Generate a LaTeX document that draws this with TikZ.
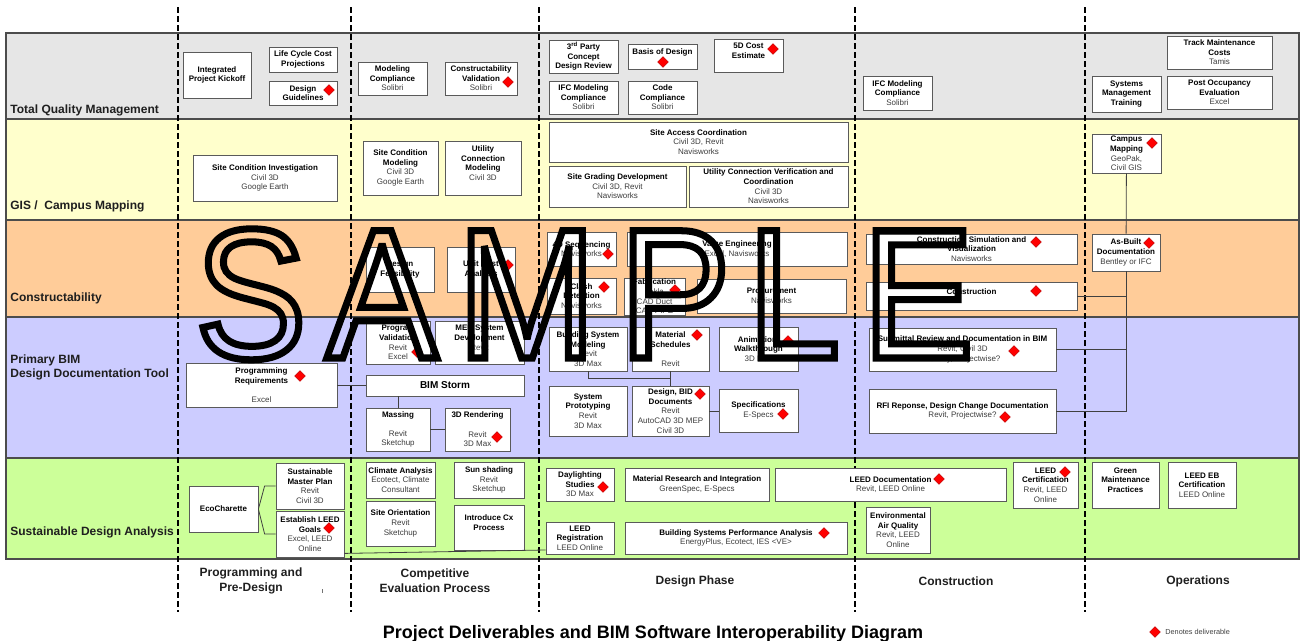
\documentclass[tikz,border=0pt]{standalone}
\usepackage{fontspec}
\setmainfont{Liberation Sans}
\newfontfamily\wmfont[FakeStretch=0.9]{Liberation Sans}
\usetikzlibrary{shapes.geometric}

\definecolor{tqmgray}{HTML}{E6E6E6}
\definecolor{gisyellow}{HTML}{FFFFCC}
\definecolor{conpeach}{HTML}{FFCC99}
\definecolor{bimlilac}{HTML}{CCCCFF}
\definecolor{susgreen}{HTML}{CCFF99}
\definecolor{boxline}{HTML}{5A5A5A}
\definecolor{toolgray}{HTML}{3C3C3C}

\newcommand{\swtool}[1]{{\mdseries\color{toolgray}#1}}
\newcommand{\emptyrow}{\mbox{}}
\newcommand{\outlined}[1]{\special{pdf:literal direct 1 Tr 7 w 3 M 0 0 0 RG}#1\special{pdf:literal direct 0 Tr}}

\begin{document}
\begin{tikzpicture}[x=1pt, y=-1pt, line width=0.8pt,
  lane/.style={draw=black!70, line width=1.2pt},
  lanelabel/.style={font=\fontsize{12}{14}\selectfont\bfseries, text=black!88, inner sep=0pt, align=left},
  phase/.style={line width=2.6pt, dash pattern=on 6pt off 3pt},
  phaselabel/.style={font=\fontsize{12}{15}\selectfont\bfseries, text=black!88, inner sep=0pt, align=center},
  task/.style={draw=boxline, fill=white, line width=0.8pt, inner sep=0pt, align=center, font=\fontsize{8}{9.6}\selectfont\bfseries},
  wh/.style 2 args={minimum width=#1, minimum height=#2},
  wire/.style={draw=black!75, line width=0.8pt},
  deliv/.style={diamond, fill=red, draw=red!70!black, line width=0.3pt, inner sep=0pt, minimum size=11},
  wmletter/.style={anchor=base west, inner sep=0pt, font=\wmfont\fontsize{185}{185}\selectfont}]
  \useasboundingbox (0,0) rectangle (1304,640);

  \filldraw[lane, fill=tqmgray] (6,33) rectangle (1299,119);
  \filldraw[lane, fill=gisyellow] (6,119) rectangle (1299,220);
  \filldraw[lane, fill=conpeach] (6,220) rectangle (1299,317);
  \filldraw[lane, fill=bimlilac] (6,317) rectangle (1299,458);
  \filldraw[lane, fill=susgreen] (6,458) rectangle (1299,559);

  \node[lanelabel, anchor=base west] (lbltqm) at (10,113) {Total Quality Management};
  \node[lanelabel, anchor=base west] (lblgis) at (10,209) {GIS / \ Campus Mapping};
  \node[lanelabel, anchor=base west] (lblcon) at (10,301) {Constructability};
  \node[lanelabel, anchor=west] (lblbim) at (10,367) {Primary BIM\\Design Documentation Tool};
  \node[lanelabel, anchor=west] (lblsus) at (10,532) {Sustainable Design Analysis};

  \foreach \px in {178,351,539,855,1085}
    \draw[phase] (\px,7) -- (\px,612);

  \node[phaselabel] (phpre) at (251,581) {Programming and\\Pre-Design};
  \node[phaselabel] (phcomp) at (435,581) {Competitive\\Evaluation Process};
  \node[phaselabel] (phdes) at (695,581.5) {Design Phase};
  \node[phaselabel] (phcon) at (956,581.5) {Construction};
  \node[phaselabel] (phops) at (1198,581.5) {Operations};
  \draw[black!55, line width=0.5pt] (322.5,589) -- (322.5,593);

  \node[task, wh={68}{46}] (kickoff) at (217,75) {Integrated\\Project Kickoff};
  \node[task, wh={68}{25}] (lifecycle) at (303,59.5) {Life Cycle Cost\\Projections};
  \node[task, wh={68}{24}] (guidelines) at (303,93) {Design\\Guidelines};
  \node[task, wh={69}{33}] (modcomp) at (392.5,78.5) {Modeling\\Compliance\\\swtool{Solibri}};
  \node[task, wh={72}{33}] (constval) at (481,78.5) {Constructability\\Validation\\\swtool{Solibri}};
  \node[task, wh={69}{33}] (concept) at (583.5,56.5) {3\textsuperscript{rd} Party\\Concept\\Design Review};
  \node[task, wh={69}{25}] (basis) at (662.5,56.5) {Basis of Design\\\emptyrow};
  \node[task, wh={69}{33}] (cost) at (748.5,55.5) {5D Cost\\Estimate\\\emptyrow};
  \node[task, wh={69}{33}] (ifcdesign) at (583.5,97.5) {IFC Modeling\\Compliance\\\swtool{Solibri}};
  \node[task, wh={69}{33}] (codecomp) at (662.5,97.5) {Code\\Compliance\\\swtool{Solibri}};
  \node[task, wh={69}{34}] (ifcbuild) at (897.5,93) {IFC Modeling\\Compliance\\\swtool{Solibri}};
  \node[task, wh={69}{36}] (sysmgmt) at (1126.5,94) {Systems\\Management\\Training};
  \node[task, wh={105}{33}] (trackcost) at (1219.5,52.5) {Track Maintenance\\Costs\\\swtool{Tamis}};
  \node[task, wh={105}{33}] (postocc) at (1219.5,92.5) {Post Occupancy\\Evaluation\\\swtool{Excel}};

  \node[task, wh={144}{46}] (sitecond) at (265,178) {Site Condition Investigation\\\swtool{Civil 3D}\\\swtool{Google Earth}};
  \node[task, wh={75}{54}] (sitemodel) at (400.5,168) {Site Condition\\Modeling\\\swtool{Civil 3D}\\\swtool{Google Earth}};
  \node[task, wh={76}{54}] (utilmodel) at (483,168) {Utility\\Connection\\Modeling\\\swtool{Civil 3D}\\\emptyrow};
  \node[task, wh={299}{40}] (siteaccess) at (698.5,142) {Site Access Coordination\\\swtool{Civil 3D, Revit}\\\swtool{Navisworks}};
  \node[task, wh={137}{41}] (grading) at (617.5,186.5) {Site Grading Development\\\swtool{Civil 3D, Revit}\\\swtool{Navisworks}};
  \node[task, wh={159}{41}] (utilcheck) at (768.5,186.5) {Utility Connection Verification and\\Coordination\\\swtool{Civil 3D}\\\swtool{Navisworks}};
  \node[task, wh={69}{39}] (campus) at (1126.5,153.5) {Campus\\Mapping\\\swtool{GeoPak,}\\\swtool{Civil GIS}};

  \node[task, wh={68}{45}] (feasibility) at (400,269.5) {Design\\Feasibility};
  \node[task, wh={68}{45}] (unitcost) at (481,269.5) {Unit Cost\\Analysis};
  \node[task, wh={69}{34}] (sequencing) at (581.5,249) {4D Sequencing\\\swtool{Navisworks}};
  \node[task, wh={220}{34}] (valueeng) at (737,249) {Value Engineering\\\swtool{Excel, Navisworks}};
  \node[task, wh={69}{36}] (clash) at (581.5,296) {Clash\\Detection\\\swtool{Navisworks}};
  \node[task, wh={61}{37}] (fabrication) at (654.5,296.5) {Fabrication\\\swtool{Tekla}\\\swtool{CAD Duct}\\\swtool{CAD PIPE}};
  \node[task, wh={149}{34}] (procurement) at (771.5,296) {Procurement\\\swtool{Navisworks}};
  \node[task, wh={211}{30}] (simulation) at (971.5,249) {Construction Simulation and\\Visualization\\\swtool{Navisworks}};
  \node[task, wh={211}{28}] (construction) at (971.5,296) {Construction\\\emptyrow};
  \node[task, wh={68}{37}] (asbuilt) at (1126,252.5) {As-Built\\Documentation\\\swtool{Bentley or IFC}};

  \node[task, wh={151}{44}] (progreq) at (261.5,385) {Programming\\Requirements\\\emptyrow\\\swtool{Excel}};
  \node[task, wh={64}{43}] (progval) at (398,342.5) {Program\\Validation\\\swtool{Revit}\\\swtool{Excel}};
  \node[task, wh={89}{43}] (mepdev) at (479.5,342.5) {MEP System\\Development\\\swtool{Revit}\\\emptyrow};
  \node[task, wh={158}{21}, font=\fontsize{10}{12}\selectfont\bfseries] (bimstorm) at (445,385.5) {BIM Storm};
  \node[task, wh={64}{43}] (massing) at (398,429.5) {Massing\\\emptyrow\\\swtool{Revit}\\\swtool{Sketchup}};
  \node[task, wh={65}{43}] (rendering) at (477.5,429.5) {3D Rendering\\\emptyrow\\\swtool{Revit}\\\swtool{3D Max}};
  \node[task, wh={78}{44}] (sysmodel) at (588,349) {Building System\\Modeling\\\swtool{Revit}\\\swtool{3D Max}};
  \node[task, wh={77}{44}] (schedules) at (670.5,349) {Material\\Schedules\\\emptyrow\\\swtool{Revit}};
  \node[task, wh={79}{44}] (animation) at (758.5,349) {Animation/\\Walkthrough\\\swtool{3D Max}};
  \node[task, wh={78}{50}] (prototype) at (588,411) {System\\Prototyping\\\swtool{Revit}\\\swtool{3D Max}};
  \node[task, wh={77}{50}] (biddocs) at (670.5,411) {Design, BID\\Documents\\\swtool{Revit}\\\swtool{AutoCAD 3D MEP}\\\swtool{Civil 3D}};
  \node[task, wh={79}{43}] (specs) at (758.5,410.5) {Specifications\\\swtool{E-Specs}};
  \node[task, wh={187}{43}] (submittal) at (962.5,349.5) {Submittal Review and Documentation in BIM\\\swtool{Revit, Civil 3D}\\\swtool{Bentley, Projectwise?}};
  \node[task, wh={187}{44}] (rfi) at (962.5,411) {RFI Reponse, Design Change Documentation\\\swtool{Revit, Projectwise?}};

  \node[task, wh={69}{46}] (charette) at (223.5,509) {EcoCharette};
  \node[task, wh={68}{46}] (masterplan) at (310,486) {Sustainable\\Master Plan\\\swtool{Revit}\\\swtool{Civil 3D}};
  \node[task, wh={68}{46}] (leedgoals) at (310,534) {Establish LEED\\Goals\\\swtool{Excel, LEED}\\\swtool{Online}};
  \node[task, wh={69}{36}] (climate) at (400.5,480) {Climate Analysis\\\swtool{Ecotect, Climate}\\\swtool{Consultant}};
  \node[task, wh={70}{36}] (sunshade) at (489,480) {Sun shading\\\swtool{Revit}\\\swtool{Sketchup}};
  \node[task, wh={69}{45}] (orientation) at (400.5,523.5) {Site Orientation\\\swtool{Revit}\\\swtool{Sketchup}};
  \node[task, wh={70}{45}] (commission) at (489,527.5) {Introduce Cx\\Process\\\emptyrow};
  \node[task, wh={68}{33}] (daylight) at (580,484.5) {Daylighting\\Studies\\\swtool{3D Max}};
  \node[task, wh={144}{33}] (materials) at (697,484.5) {Material Research and Integration\\\swtool{GreenSpec, E-Specs}};
  \node[task, wh={231}{33}] (leeddoc) at (890.5,484.5) {LEED Documentation\\\swtool{Revit, LEED Online}};
  \node[task, wh={65}{46}] (leedcert) at (1045.5,485) {LEED\\Certification\\\swtool{Revit, LEED}\\\swtool{Online}};
  \node[task, wh={67}{46}] (greenmaint) at (1125.5,485) {Green\\Maintenance\\Practices\\\emptyrow};
  \node[task, wh={68}{46}] (leedeb) at (1202,485) {LEED EB\\Certification\\\swtool{LEED Online}};
  \node[task, wh={68}{32}] (leedreg) at (580,538) {LEED\\Registration\\\swtool{LEED Online}};
  \node[task, wh={222}{32}] (perfanalysis) at (736,538) {Building Systems Performance Analysis\\\swtool{EnergyPlus, Ecotect, IES \textless VE\textgreater}};
  \node[task, wh={64}{46}] (airquality) at (898,530) {Environmental\\Air Quality\\\swtool{Revit, LEED}\\\swtool{Online}};

  \draw[wire] (progreq.east) -- (progreq.east -| bimstorm.west);
  \draw[wire] (massing.north) -- (massing.north |- bimstorm.south);
  \draw[wire] (massing) -- (rendering);
  \draw[wire] (sysmodel.south) -- ++(0,7) -| (schedules.south);
  \draw[wire] (schedules) -- (biddocs);
  \draw[wire] (biddocs.east) -- (biddocs.east -| specs.west);
  \draw[wire] (campus) -- (asbuilt);
  \draw[wire] (asbuilt.south) -- (asbuilt.south |- rfi.east) -- (rfi.east);
  \draw[wire] (construction.east) -- (construction.east -| asbuilt.south);
  \draw[wire] (submittal.east) -- (submittal.east -| asbuilt.south);
  \draw[wire] (masterplan.west) -- +(-11,0) -- (charette.east);
  \draw[wire] (leedgoals.west) -- +(-11,0) -- (charette.east);
  \draw[wire] ([yshift=4pt]leedgoals.south east) -- ([yshift=-12pt]leedreg.west);

  \foreach \dx/\dy [count=\k] in {329/90, 508/82, 663/62, 773/49, 1152/143, 508/265, 608/254,
      604/287, 675/290, 1036/242, 1036/291, 1149/243, 300/376, 417/352, 497/437, 697/335,
      788/341, 700/394, 783/414, 1014/351, 1005/417, 329/528, 603/487, 939/479, 1065/472, 824/533}
    \node[deliv] (deliv\k) at (\dx,\dy) {};

  \node[font=\fontsize{18}{20}\selectfont\bfseries, anchor=base, inner sep=0pt] (title) at (653,638) {Project Deliverables and BIM Software Interoperability Diagram};
  \node[deliv] (keymark) at (1155,632) {};
  \node[anchor=west, inner sep=0pt, font=\fontsize{7.3}{8}\selectfont, text=black!75] (keytext) at (1165,632) {Denotes deliverable};

  \foreach \ch/\cx in {S/195, A/326, M/457, P/619, L/747, E/862}
    \node[wmletter] (wm\ch) at (\cx,358) {\outlined{\ch}};
\end{tikzpicture}
\end{document}
